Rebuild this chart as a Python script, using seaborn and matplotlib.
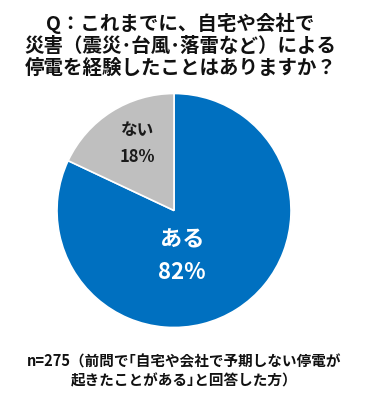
import matplotlib
matplotlib.use("Agg")
import matplotlib.pyplot as plt
import seaborn as sns

categories = ["ある", "ない"]
values = [82, 18]
colors = ["#0070C0", "#BFBFBF"]
text_colors = ["white", "#1a1a1a"]
title = "Q：これまでに、自宅や会社で\n災害（震災･台風･落雷など）による\n停電を経験したことはありますか？"
note = "n=275（前問で｢自宅や会社で予期しない停電が\n起きたことがある｣と回答した方）"

sns.set_theme(style="white")
plt.rcParams['font.family'] = ['Noto Sans CJK JP', 'DejaVu Sans']

fig = plt.figure(figsize=(3.68, 4.0), dpi=100)
fig.patch.set_facecolor("white")

r_px = 117
cx, cy = 174 / 368, (400 - 210.5) / 400
w, h = 2 * r_px / 368, 2 * r_px / 400
ax = fig.add_axes([cx - w / 2, cy - h / 2, w, h])
wedges, _ = ax.pie(values, colors=colors, startangle=90, counterclock=False,
                   wedgeprops=dict(edgecolor="white", linewidth=1.2))
ax.set_xlim(-1, 1)
ax.set_ylim(-1, 1)
ax.set_aspect("equal")

label_pos = [(0.07, -0.25, -0.53, 16), (-0.31, 0.69, 0.46, 12)]
for cat, val, tc, (x, y1, y2, fs) in zip(categories, values, text_colors, label_pos):
    ax.text(x, y1, cat, ha="center", va="center", color=tc, fontsize=fs, fontweight="bold")
    ax.text(x, y2, f"{val}%", ha="center", va="center", color=tc, fontsize=fs, fontweight="bold")

fig.text(0.49, 1 - 45 / 400, title, ha="center", va="center", fontsize=14,
         fontweight="bold", linespacing=1.2, color="#111111")
fig.text(0.5, 1 - 371 / 400, note, ha="center", va="center", fontsize=10.5,
         fontweight="bold", linespacing=1.25, color="#111111")

fig.savefig("out.png", dpi=100, facecolor="white")
